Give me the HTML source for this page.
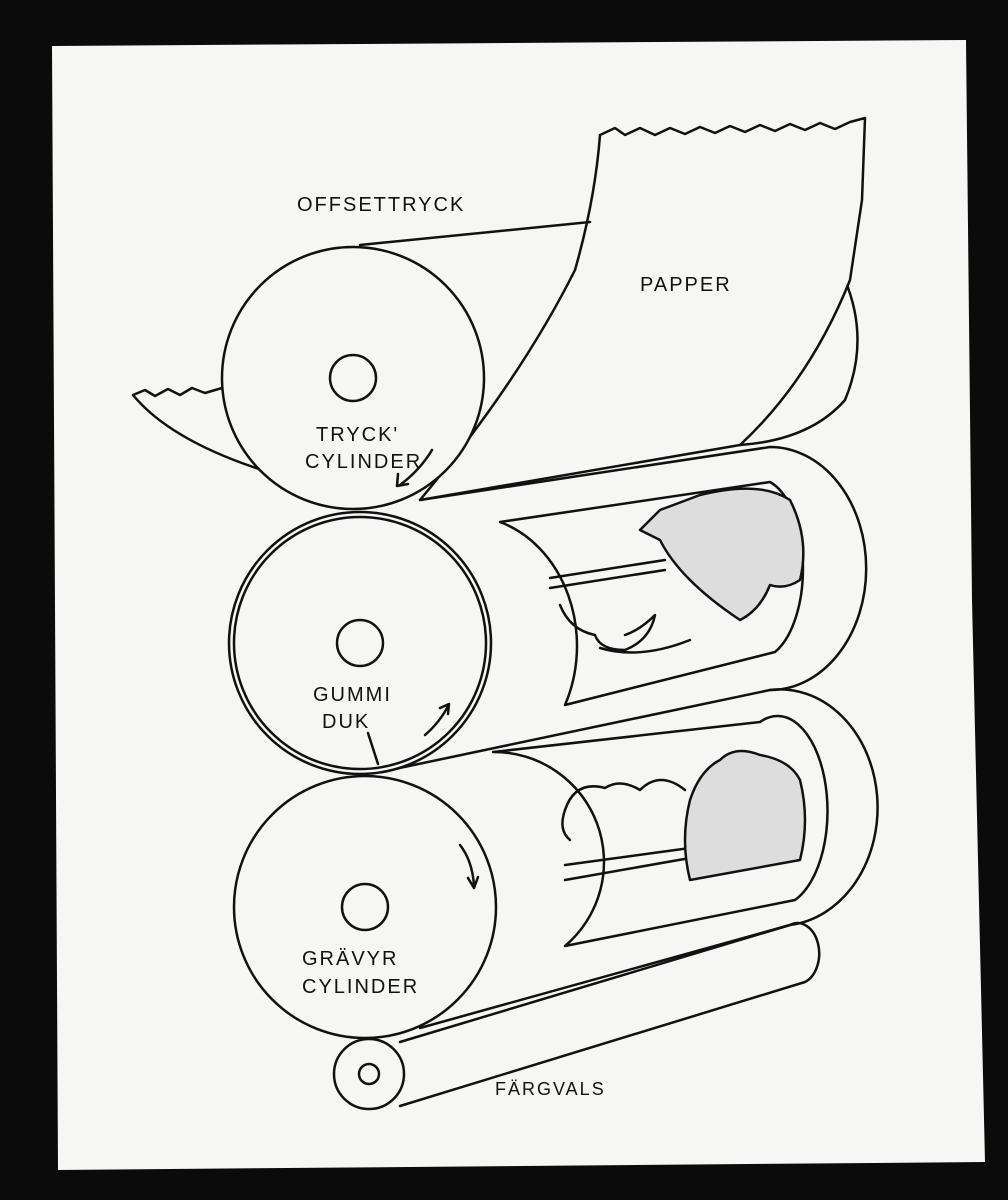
<!DOCTYPE html>
<html><head><meta charset="utf-8"><style>
html,body{margin:0;padding:0;background:#0a0a0a;}
svg{display:block}
text{font-family:"Liberation Sans",sans-serif;font-size:20px;fill:#111;letter-spacing:2px}
</style></head><body>
<svg width="1008" height="1200" viewBox="0 0 1008 1200" xmlns="http://www.w3.org/2000/svg">
<rect x="0" y="0" width="1008" height="1200" fill="#0b0b0b"/>
<path d="M52 46 L966 40 L972 600 L985 1162 L58 1170 Z" fill="#f6f6f4"/>
<g fill="none" stroke="#111" stroke-width="2.5" stroke-linejoin="round" stroke-linecap="round">
<!-- Farvals body -->
<path d="M400 1042 L790 925 A20 28 0 0 1 805 982 L400 1106"/>
<!-- Gummi body -->
<path d="M420 500 L770 447 A95 120 0 0 1 770 690 L390 770"/>
<!-- Gravyr body -->
<path d="M770 690 A95 115 0 0 1 790 925 L420 1028"/>
<!-- gummi window -->
<path d="M500 522 L770 482 A45 90 0 0 1 775 652 L565 705 A110 130 0 0 0 500 522 Z"/>
<path d="M550 578 L665 560"/><path d="M550 588 L665 570"/>
<path d="M560 605 Q570 630 595 635 Q600 650 625 650 Q650 640 655 615 Q640 630 625 635"/>
<path d="M600 648 Q640 660 690 640"/>
<path d="M640 530 L660 510 L700 495 Q760 480 790 500 Q810 540 800 580 Q785 590 770 585 Q760 610 740 620 Q710 600 690 580 Q670 560 660 540 Z" fill="#ddd"/>
<!-- gravyr window -->
<path d="M493 752 L760 722 A50 95 0 0 1 795 900 L565 946 A110 110 0 0 0 493 752 Z"/>
<path d="M565 865 L690 848" /><path d="M565 880 L690 858"/>
<path d="M565 810 Q575 780 605 788 Q620 778 640 790 Q660 770 685 790"/>
<path d="M565 810 Q558 830 570 840"/>
<path d="M690 800 Q700 770 720 760 Q735 745 760 755 Q790 760 800 780 Q810 820 800 860 L690 880 Q680 840 690 800Z" fill="#ddd"/>
<!-- circles -->
<circle cx="369" cy="1074" r="35" fill="#f6f6f4"/>
<circle cx="369" cy="1074" r="10"/>
<circle cx="365" cy="907" r="131" fill="#f6f6f4"/>
<circle cx="365" cy="907" r="23"/>
<path d="M460 845 Q472 860 474 885"/><path d="M468 878 L474 888 L478 877"/>
<circle cx="360" cy="643" r="131" fill="#f6f6f4"/>
<circle cx="360" cy="643" r="126"/>
<circle cx="360" cy="643" r="23"/>
<path d="M368 733 L378 764"/>
<path d="M425 735 Q440 722 448 706"/><path d="M440 708 L449 704 L448 714"/>
<!-- back paper/cylinder end -->
<path d="M845 280 Q870 340 845 400 Q810 440 740 445" fill="#f6f6f4"/>
<!-- paper -->
<path d="M600 135 L615 128 L625 135 L640 128 L655 135 L670 128 L685 134 L700 127 L715 133 L730 126 L745 132 L760 125 L775 131 L790 124 L805 130 L820 123 L835 129 L850 122 L865 118 L862 200 L850 280 Q810 380 740 445 L420 500 Q520 380 575 270 Q595 200 600 135 Z" fill="#f6f6f4"/>
<path d="M360 245 L590 222"/>
<!-- left flap -->
<path d="M133 395 L145 390 L155 396 L168 389 L180 395 L192 388 L205 393 L222 388 L262 470 Q170 440 133 395 Z" fill="#f6f6f4"/>
<!-- Tryck cylinder -->
<circle cx="353" cy="378" r="131" fill="#f6f6f4"/>
<circle cx="353" cy="378" r="23"/>
<path d="M432 450 Q420 470 400 485"/><path d="M398 474 L397 486 L408 484"/>
</g>
<text x="297" y="211">OFFSETTRYCK</text>
<text x="640" y="291">PAPPER</text>
<text x="316" y="441">TRYCK'</text>
<text x="305" y="468">CYLINDER</text>
<text x="313" y="701">GUMMI</text>
<text x="322" y="728">DUK</text>
<text x="302" y="965">GRÄVYR</text>
<text x="302" y="993">CYLINDER</text>
<text x="495" y="1095" style="font-size:18px">FÄRGVALS</text>
</svg>
</body></html>
